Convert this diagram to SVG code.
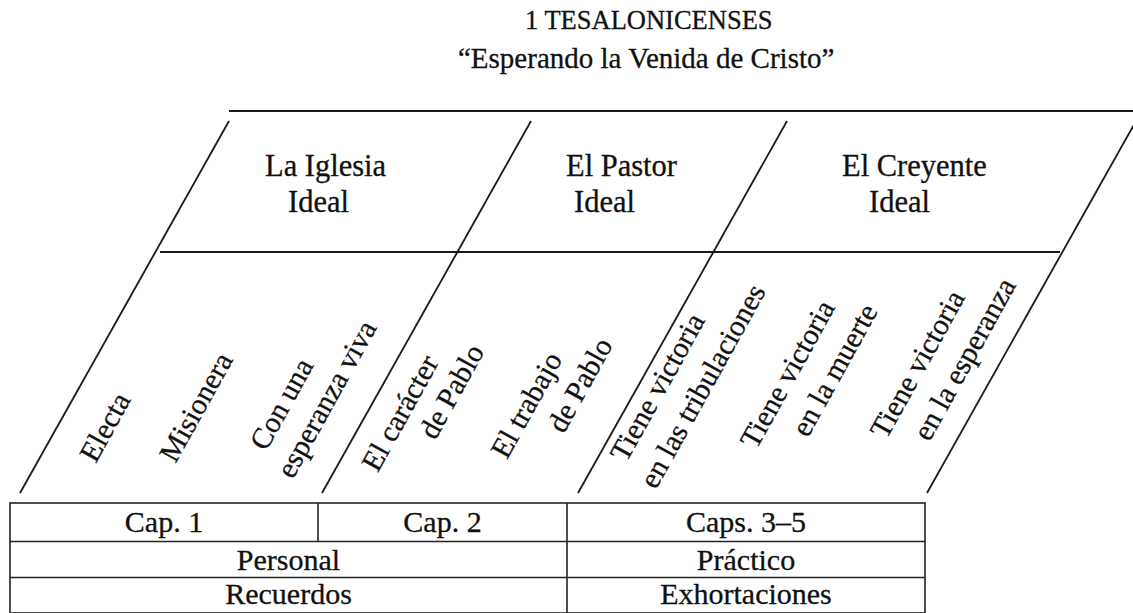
<svg xmlns="http://www.w3.org/2000/svg" width="1133" height="613" viewBox="0 0 1133 613">
<style>
  text { font-family: "Liberation Serif", "Times New Roman", serif; fill: #111; stroke: #111; stroke-width: 0.3; }
  .title { font-size: 26.5px; }
  .sub { font-size: 29px; }
  .hdr { font-size: 30.5px; }
  .rot { font-size: 29.5px; text-anchor: middle; }
  .cell { font-size: 30px; text-anchor: middle; }
  .ln { stroke: #1a1a1a; stroke-width: 1.8; fill: none; stroke-linecap: butt; }
  .tb { stroke: #222; stroke-width: 1.6; fill: none; }
</style>
<rect width="1133" height="613" fill="#fff"/>

<g id="title">
  <text class="title" x="525" y="29">1 TESALONICENSES</text>
  <text class="sub" x="458" y="68">“Esperando la Venida de Cristo”</text>
</g>

<g id="connectors">
  <line class="ln" x1="229" y1="111" x2="1133" y2="111"/>
  <line class="ln" x1="160" y1="252" x2="1060" y2="252"/>
  <line class="ln" x1="229" y1="121" x2="20" y2="493"/>
  <line class="ln" x1="531" y1="121" x2="322" y2="493"/>
  <line class="ln" x1="787" y1="121" x2="578" y2="493"/>
  <line class="ln" x1="1136" y1="121" x2="927" y2="493"/>
</g>

<g id="hdr-iglesia">
  <text class="hdr" x="265" y="176">La Iglesia</text>
  <text class="hdr" x="288" y="212">Ideal</text>
</g>
<g id="hdr-pastor">
  <text class="hdr" x="566" y="176">El Pastor</text>
  <text class="hdr" x="574" y="212">Ideal</text>
</g>
<g id="hdr-creyente">
  <text class="hdr" x="842" y="176">El Creyente</text>
  <text class="hdr" x="869" y="212">Ideal</text>
</g>

<g id="item-electa">
  <text class="rot" transform="translate(105,427) rotate(-61)" dy="0.33em">Electa</text>
</g>
<g id="item-misionera">
  <text class="rot" transform="translate(196,407) rotate(-61)" dy="0.33em">Misionera</text>
</g>
<g id="item-esperanza-viva">
  <text class="rot" transform="translate(281.5,404) rotate(-61)" dy="0.33em">Con una</text>
  <text class="rot" transform="translate(326.5,399) rotate(-61)" dy="0.33em">esperanza viva</text>
</g>
<g id="item-caracter">
  <text class="rot" transform="translate(400,413) rotate(-61)" dy="0.33em">El carácter</text>
  <text class="rot" transform="translate(451.5,391.5) rotate(-61)" dy="0.33em">de Pablo</text>
</g>
<g id="item-trabajo">
  <text class="rot" transform="translate(526.5,405) rotate(-61)" dy="0.33em">El trabajo</text>
  <text class="rot" transform="translate(580,385) rotate(-61)" dy="0.33em">de Pablo</text>
</g>
<g id="item-tribulaciones">
  <text class="rot" transform="translate(657.5,387) rotate(-61)" dy="0.33em">Tiene victoria</text>
  <text class="rot" transform="translate(702.5,386) rotate(-61)" dy="0.33em">en las tribulaciones</text>
</g>
<g id="item-muerte">
  <text class="rot" transform="translate(787.5,374) rotate(-61)" dy="0.33em">Tiene victoria</text>
  <text class="rot" transform="translate(834.5,370) rotate(-61)" dy="0.33em">en la muerte</text>
</g>
<g id="item-esperanza">
  <text class="rot" transform="translate(917.5,364) rotate(-61)" dy="0.33em">Tiene victoria</text>
  <text class="rot" transform="translate(964.5,359) rotate(-61)" dy="0.33em">en la esperanza</text>
</g>

<g id="table">
  <rect class="tb" x="10" y="503" width="915" height="110"/>
  <line class="tb" x1="10" y1="541.5" x2="925" y2="541.5"/>
  <line class="tb" x1="10" y1="577.5" x2="925" y2="577.5"/>
  <line class="tb" x1="318" y1="503" x2="318" y2="541.5"/>
  <line class="tb" x1="567" y1="503" x2="567" y2="613"/>
</g>
<g id="cell-cap1"><text class="cell" x="164" y="532">Cap. 1</text></g>
<g id="cell-cap2"><text class="cell" x="442.5" y="532">Cap. 2</text></g>
<g id="cell-caps35"><text class="cell" x="746" y="532">Caps. 3–5</text></g>
<g id="cell-personal"><text class="cell" x="288.5" y="570">Personal</text></g>
<g id="cell-practico"><text class="cell" x="746" y="570">Práctico</text></g>
<g id="cell-recuerdos"><text class="cell" x="288.5" y="604">Recuerdos</text></g>
<g id="cell-exhortaciones"><text class="cell" x="746" y="604">Exhortaciones</text></g>
</svg>
